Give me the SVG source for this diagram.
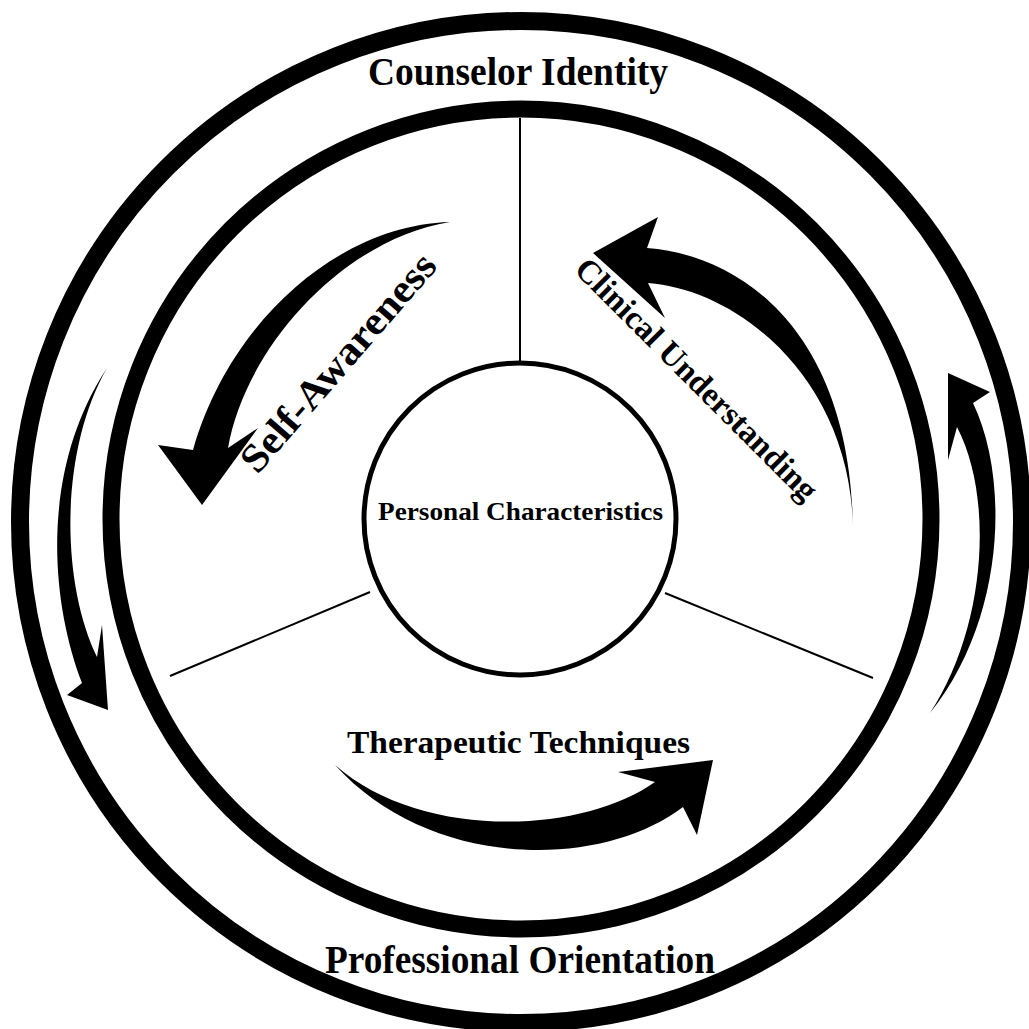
<svg xmlns="http://www.w3.org/2000/svg" width="1029" height="1029" viewBox="0 0 1029 1029">
  <style>
    .ring { fill: none; stroke: #000; }
    .divider { stroke: #000; stroke-width: 2; fill: none; }
    .arrow { fill: #000; stroke: none; }
    .label { font-family: "Liberation Serif", "Times New Roman", serif; font-weight: bold; fill: #000; text-anchor: middle; }
  </style>
  <rect width="1029" height="1029" fill="#fff"/>

  <!-- Outer ring: Counselor Identity / Professional Orientation -->
  <g id="outer-ring">
    <circle class="ring" cx="521" cy="522" r="501" stroke-width="18"/>
    <text class="label" x="518" y="85" font-size="39" textLength="300" lengthAdjust="spacingAndGlyphs">Counselor Identity</text>
    <text class="label" x="520" y="973" font-size="39" textLength="390" lengthAdjust="spacingAndGlyphs">Professional Orientation</text>
  </g>

  <!-- Inner ring -->
  <g id="inner-ring">
    <circle class="ring" cx="521" cy="519" r="410" stroke-width="17"/>
  </g>

  <!-- Sector dividers -->
  <g id="dividers">
    <line class="divider" x1="520" y1="118" x2="520" y2="363"/>
    <line class="divider" x1="170" y1="676" x2="370" y2="592"/>
    <line class="divider" x1="665" y1="593" x2="873" y2="678"/>
  </g>

  <!-- Core: Personal Characteristics -->
  <g id="personal-characteristics">
    <circle cx="520" cy="519" r="156" fill="#fff" stroke="#000" stroke-width="5"/>
    <text class="label" x="520.5" y="520" font-size="26" textLength="285" lengthAdjust="spacingAndGlyphs">Personal Characteristics</text>
  </g>

  <!-- Sector labels -->
  <g id="self-awareness">
    <text class="label" font-size="40" textLength="276" lengthAdjust="spacingAndGlyphs" transform="translate(348 371) rotate(-49)">Self-Awareness</text>
  </g>
  <g id="clinical-understanding">
    <text class="label" font-size="33" textLength="328" lengthAdjust="spacingAndGlyphs" transform="translate(689 387) rotate(45)">Clinical Understanding</text>
  </g>
  <g id="therapeutic-techniques">
    <text class="label" x="518.5" y="753" font-size="32" textLength="343" lengthAdjust="spacingAndGlyphs">Therapeutic Techniques</text>
  </g>

  <!-- Tapered curved arrows -->
  <g id="arrows">
    <!-- Self-Awareness: sweeps down-left -->
    <path class="arrow" d="M202,505 L158,445 L193,450 C230,320 340,225 450,222 C340,240 245,350 228,448 L258,428 Z"/>
    <!-- Clinical Understanding: rises and turns left -->
    <path class="arrow" d="M593,253 L658,217 L647,248 C740,255 850,330 853,527 C850,380 740,290 648,283 L665,318 Z"/>
    <!-- Therapeutic Techniques: dips and rises right -->
    <path class="arrow" d="M713,760 L618,772 L655,782 C580,835 420,840 335,765 C430,870 600,870 683,807 L697,835 Z"/>
    <!-- Left orbit arrow: downward -->
    <path class="arrow" d="M108,710 L67,695 L82,683 C50,600 40,470 107,368 C60,450 60,580 97,657 L102,625 Z"/>
    <!-- Right orbit arrow: upward -->
    <path class="arrow" d="M948,373 L990,392 L973,403 C1010,480 1005,620 930,713 C985,630 995,500 957,427 L948,460 Z"/>
  </g>
</svg>
